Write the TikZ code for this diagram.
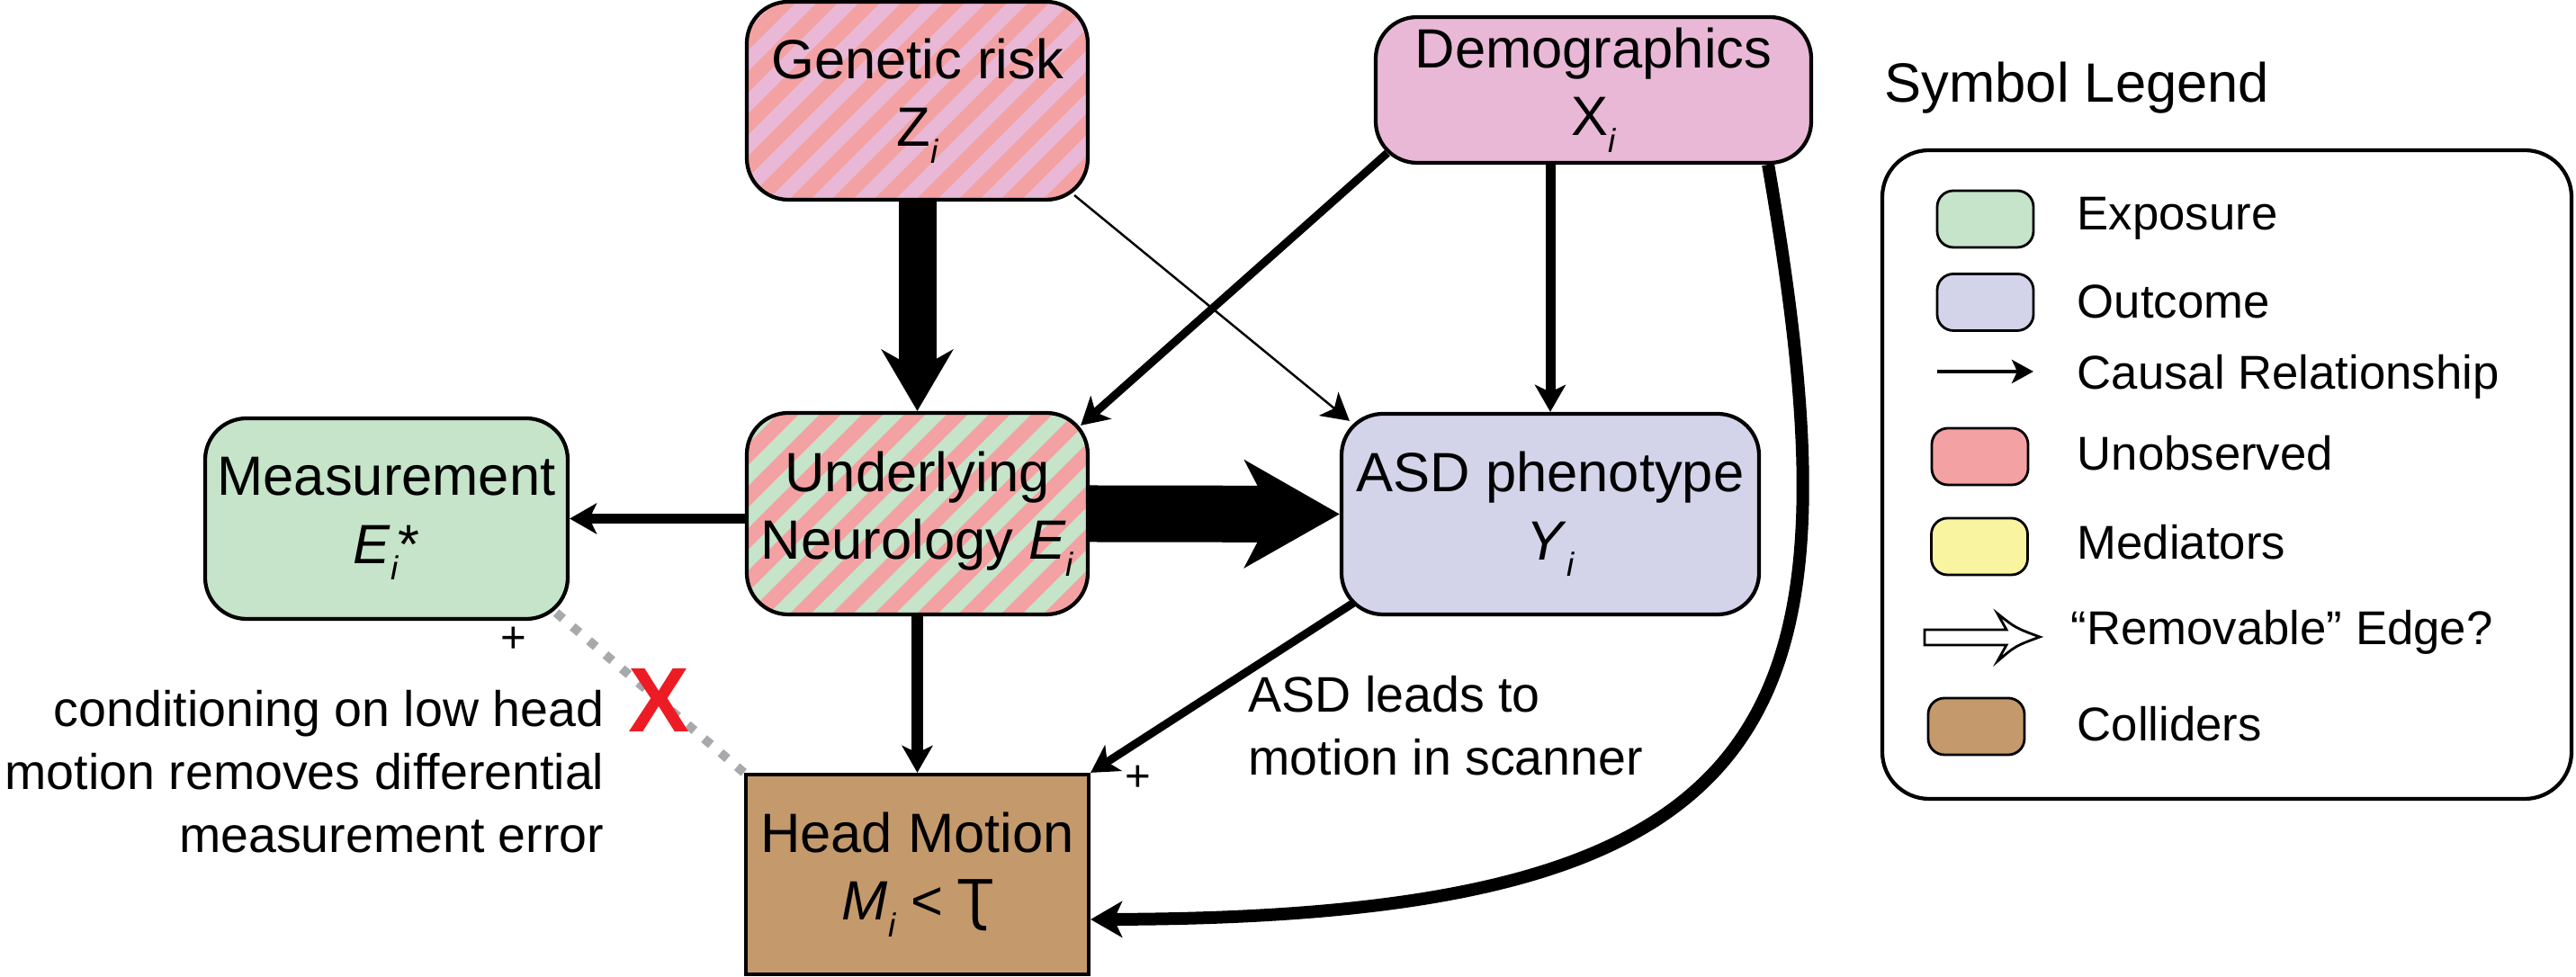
\documentclass[tikz,border=0pt]{standalone}
\usepackage{fontspec}
\setmainfont{Liberation Sans}
\newfontfamily\dejavu{DejaVu Sans}
\usepackage{tikz}
\definecolor{exposure}{RGB}{197,228,201}
\definecolor{outcome}{RGB}{211,211,234}
\definecolor{unobserved}{RGB}{243,161,162}
\definecolor{mediator}{RGB}{248,244,160}
\definecolor{collider}{RGB}{196,153,108}
\definecolor{demopink}{RGB}{233,184,214}
\definecolor{crossred}{RGB}{237,28,36}
\definecolor{dotgrey}{RGB}{167,169,172}
\usetikzlibrary{arrows.meta}

\newcommand{\idx}[1]{\raisebox{-0.3em}{\fontsize{10.5}{12}\selectfont\itshape #1}}

\tikzset{
  varbox/.style={draw, line width=1.2pt, rounded corners=0.46cm, align=center, inner sep=0pt, font=\fontsize{17.5}{21.5}\selectfont},
  striped/.style={path picture={\foreach \k in {-6,...,9} \fill[#1, sharp corners] ([xshift=\k*0.47cm]path picture bounding box.south west) -- ++(0.235,0) -- ++(3,3) -- ++(-0.235,0) -- cycle;}},
  causal/.style={-{Stealth[length=0.30cm, width=0.34cm, inset=0.08cm]}},
  swatch/.style={draw, line width=0.8pt, rounded corners=0.18cm, minimum width=1.07cm, minimum height=0.63cm, inner sep=0pt},
  legtext/.style={anchor=base west, font=\fontsize{15}{18}\selectfont, inner sep=0pt},
  notetext/.style={font=\fontsize{15.8}{19.9}\selectfont, inner sep=0pt}
}

\begin{document}
\begin{tikzpicture}
    \useasboundingbox (0,0) rectangle (28.63,10.86);

    % variables
    \node[varbox, fill=demopink, striped=unobserved, minimum width=3.79cm, minimum height=2.20cm] (gen) at (10.195,9.74) {Genetic risk\\Z\idx{i}};
    \node[varbox, fill=demopink, minimum width=4.84cm, minimum height=1.62cm] (demo) at (17.71,9.86) {Demographics\\X\idx{i}};
    \node[varbox, fill=exposure, minimum width=4.03cm, minimum height=2.23cm] (meas) at (4.295,5.095) {Measurement\\\textit{E}\idx{i}*};
    \node[varbox, fill=exposure, striped=unobserved, minimum width=3.79cm, minimum height=2.24cm] (neuro) at (10.195,5.15) {Underlying\\Neurology \textit{E}\idx{i}};
    \node[varbox, fill=outcome, minimum width=4.64cm, minimum height=2.23cm] (asd) at (17.23,5.145) {ASD phenotype\\\textit{Y}\idx{i}};
    \node[varbox, rounded corners=0pt, fill=collider, minimum width=3.81cm, minimum height=2.22cm] (head) at (10.195,1.14) {Head Motion\\\textit{M}\idx{i} < {\dejavu Ʈ}};

    % causal edges
    \draw[line width=0.42cm, -{Stealth[length=0.68cm, width=0.79cm, inset=0.22cm]}] (gen.south) -- (neuro.north);
    \draw[line width=0.63cm, -{Stealth[length=1.05cm, width=1.18cm, inset=0.30cm]}] (neuro.east) -- (asd.west);
    \draw[causal, line width=0.7pt] ([shift={(-0.17,0.07)}]gen.south east) -- ([shift={(0.11,-0.10)}]asd.north west);
    \draw[causal, line width=0.09cm] ([shift={(0.15,0.13)}]demo.south west) -- ([shift={(-0.10,-0.16)}]neuro.north east);
    \draw[causal, line width=0.11cm] (asd.north |- demo.south) -- (asd.north);
    \draw[causal, line width=0.11cm] (neuro.west |- meas.east) -- (meas.east);
    \draw[causal, line width=0.13cm] (neuro.south) -- (head.north);
    \draw[causal, line width=0.09cm] ([shift={(0.17,0.16)}]asd.south west) -- (head.north east);
    \draw[causal, line width=0.14cm, -{Stealth[length=0.35cm, width=0.40cm, inset=0.09cm]}] ([xshift=-0.5cm]demo.south east) .. controls +(1.07,-6.2) and +(7.83,0.02) .. ([yshift=-0.5cm]head.east);

    % removed edge
    \draw[dotgrey, line width=0.10cm, dash pattern=on 0.10cm off 0.14cm] ([shift={(-0.15,0.09)}]meas.south east) -- node[pos=0.55, text=crossred, font=\fontsize{29}{29}\selectfont\bfseries] (cross) {X} (head.north west);
    \node[font=\fontsize{14}{14}\selectfont] (plusm) at (5.71,3.75) {+};
    \node[font=\fontsize{14}{14}\selectfont] (plush) at (12.65,2.21) {+};

    % notes
    \node[notetext, anchor=east, align=right] (condnote) at (6.72,2.285) {conditioning on low head\\motion removes differential\\measurement error};
    \node[notetext, anchor=west, align=left] (asdnote) at (13.87,2.79) {ASD leads to\\motion in scanner};

    % legend
    \node[anchor=base west, font=\fontsize{17.5}{21}\selectfont, inner sep=0pt] (legtitle) at (20.94,9.72) {Symbol Legend};
    \node[draw, line width=1.2pt, rounded corners=0.52cm, minimum width=7.66cm, minimum height=7.21cm] (legend) at (24.75,5.585) {};

    \node[swatch, fill=exposure] (sw1) at (22.065,8.425) {};
    \node[legtext] (lab1) at (23.08,8.30) {Exposure};
    \node[swatch, fill=outcome] (sw2) at (22.065,7.50) {};
    \node[legtext] (lab2) at (23.08,7.32) {Outcome};
    \coordinate (ca1) at (21.53,6.73);
    \coordinate (ca2) at (22.60,6.73);
    \draw[line width=1.4pt, -{Stealth[length=0.24cm, width=0.26cm, inset=0.06cm]}] (ca1) -- (ca2);
    \node[legtext] (lab3) at (23.08,6.53) {Causal Relationship};
    \node[swatch, fill=unobserved] (sw3) at (22.005,5.785) {};
    \node[legtext] (lab4) at (23.08,5.63) {Unobserved};
    \node[swatch, fill=mediator] (sw4) at (22.0,4.785) {};
    \node[legtext] (lab5) at (23.08,4.64) {Mediators};
    \draw[line width=0.8pt, fill=white] (21.39,3.86) -- (22.30,3.86) -- (22.20,4.04) .. controls (22.40,3.88) .. (22.67,3.78) .. controls (22.40,3.68) .. (22.20,3.51) -- (22.30,3.69) -- (21.39,3.69) -- cycle;
    \node[legtext] (lab6) at (23.01,3.69) {“Removable” Edge?};
    \node[swatch, fill=collider] (sw5) at (21.965,2.785) {};
    \node[legtext] (lab7) at (23.08,2.62) {Colliders};

\end{tikzpicture}
\end{document}
